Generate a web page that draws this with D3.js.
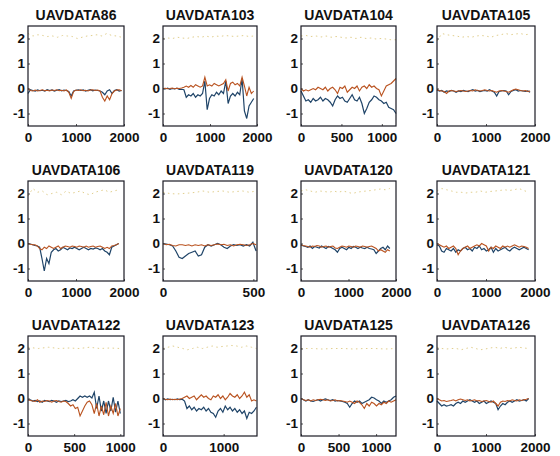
<!DOCTYPE html>
<html><head><meta charset="utf-8">
<script src="https://cdn.jsdelivr.net/npm/d3@7"></script>
<style>
html,body{margin:0;padding:0;background:#fff;}
svg{display:block;}
.tick text{font-family:"Liberation Sans",Arial,sans-serif;font-weight:bold;font-size:13.5px;fill:#111;}
</style></head><body>
<svg id="chart" width="560" height="456"></svg>
<script>
const titles = ["UAVDATA86","UAVDATA103","UAVDATA104","UAVDATA105","UAVDATA106","UAVDATA119","UAVDATA120","UAVDATA121","UAVDATA122","UAVDATA123","UAVDATA125","UAVDATA126"];
const xLimits = [2000,2000,1175,2000,2000,520,2000,2000,1040,1550,1265,2000];
const xTickValues = [[0,1000,2000],[0,1000,2000],[0,500,1000],[0,1000,2000],[0,1000,2000],[0,500],[0,1000,2000],[0,1000,2000],[0,500,1000],[0,1000],[0,500,1000],[0,1000,2000]];
const yTickValues = [-1,0,1,2];
const dataLength = [1950,1930,1175,1900,1890,515,1870,1870,1000,1540,1265,1870];

const blue86 = [-0.2,-0.05,-0.08,-0.1,-0.06,-0.09,-0.07,-0.1,-0.05,-0.08,-0.06,-0.1,-0.07,-0.05,-0.09,-0.06,-0.08,-0.12,-0.3,-0.1,-0.07,-0.05,-0.08,-0.06,-0.1,-0.07,-0.05,-0.09,-0.06,-0.08,-0.1,-0.15,-0.25,-0.1,-0.05,-0.2,-0.08,-0.05,-0.1,-0.08];
const red86 = [0,-0.08,-0.1,-0.06,-0.1,-0.08,-0.05,-0.09,-0.07,-0.1,-0.06,-0.08,-0.05,-0.09,-0.07,-0.1,-0.06,-0.15,-0.4,-0.12,-0.06,-0.08,-0.05,-0.09,-0.07,-0.1,-0.06,-0.05,-0.08,-0.06,-0.1,-0.35,-0.5,-0.3,-0.45,-0.2,-0.1,-0.06,-0.05,-0.09];
const yellow86 = [2.2,2.1,2.15,2.12,2.08,2.1,2.05,2.12,2.1,2.08,2.0,2.05,2.1,2.12,2.15,2.1,2.2,2.12,2.1,2.05];

const blue103 = [0,-0.02,0.01,-0.03,0,-0.02,0.01,-0.04,-0.03,-0.05,-0.35,-0.25,-0.3,-0.2,-0.35,-0.25,-0.3,-0.2,0.3,-0.85,-0.4,-0.25,-0.3,-0.15,-0.25,-0.1,-0.2,0.3,-0.6,-0.3,-0.2,-0.3,-0.15,-0.25,0.4,-0.9,-1.2,-0.7,-0.55,-0.4];
const red103 = [0,0.01,-0.01,0,0.02,-0.01,0.01,0,0.02,0.05,0.1,0.05,0.12,0.05,0.15,0.1,0.05,0.1,0.45,0.1,0.15,0.1,0.2,0.15,0.1,0.15,0.2,0.35,-0.1,0.2,0.25,0.15,0.2,0.1,0.45,0.1,-0.3,0.05,-0.2,-0.1];
const yellow103 = [2.0,2.02,2.0,2.05,2.02,2.0,2.05,2.08,2.05,2.1,2.05,2.1,2.08,2.12,2.1,2.08,2.1,2.12,2.08,2.1];

const blue104 = [-0.1,-0.3,-0.5,-0.45,-0.55,-0.4,-0.5,-0.45,-0.35,-0.5,-0.4,-0.45,-0.55,-0.7,-0.45,-0.3,-0.4,-0.35,-0.5,-0.55,-0.4,-0.25,-0.45,-0.5,-0.35,-0.6,-1.0,-0.8,-0.55,-0.45,-0.3,-0.35,-0.45,-0.5,-0.6,-0.55,-0.75,-0.8,-0.85,-1.0];
const red104 = [0,-0.1,-0.05,-0.1,-0.05,0,-0.05,0.05,0,-0.05,0.05,-0.1,0,0.05,-0.05,-0.2,0.05,0,0.1,-0.15,-0.05,0.05,0,0.1,-0.1,0.05,0.1,0,0.15,0.05,0.1,0,-0.05,-0.3,-0.1,0.1,0.15,0.2,0.3,0.4];
const yellow104 = [2.1,2.12,2.08,2.1,2.06,2.1,2.05,2.08,2.05,2.02,2.05,2.0,2.05,2.0,2.02,1.98,2.0,1.98,1.95,1.95];

const blue105 = [-0.05,-0.1,-0.08,-0.15,-0.1,-0.12,-0.08,-0.1,-0.15,-0.1,-0.12,-0.08,-0.1,-0.12,-0.08,-0.05,-0.1,-0.08,-0.12,-0.1,-0.08,-0.1,-0.05,-0.1,-0.15,-0.3,-0.12,-0.1,-0.08,-0.1,-0.25,-0.12,-0.08,-0.05,-0.1,-0.08,-0.1,-0.12,-0.1,-0.15];
const red105 = [-0.05,-0.08,-0.1,-0.12,-0.2,-0.1,-0.08,-0.1,-0.12,-0.1,-0.08,-0.1,-0.12,-0.1,-0.08,-0.1,-0.05,-0.08,-0.1,-0.08,-0.05,-0.08,-0.1,-0.08,-0.12,-0.15,-0.1,-0.08,-0.1,-0.12,-0.15,-0.1,-0.05,-0.02,-0.05,-0.08,-0.1,-0.08,-0.12,-0.1];
const yellow105 = [1.9,2.2,2.15,2.12,2.1,2.05,2.08,2.05,2.1,2.12,2.1,2.05,2.12,2.15,2.2,2.15,2.18,2.2,2.15,2.18];

const blue106 = [0,-0.02,-0.05,-0.08,-0.1,-0.15,-0.6,-1.1,-0.6,-0.8,-0.35,-0.25,-0.2,-0.3,-0.25,-0.15,-0.2,-0.25,-0.18,-0.2,-0.15,-0.2,-0.25,-0.2,-0.15,-0.2,-0.25,-0.2,-0.22,-0.18,-0.2,-0.25,-0.2,-0.3,-0.35,-0.45,-0.15,-0.1,-0.05,0];
const red106 = [0,-0.03,-0.05,-0.05,-0.1,-0.2,-0.25,-0.15,-0.2,-0.1,-0.15,-0.2,-0.15,-0.1,-0.2,-0.15,-0.1,-0.12,-0.15,-0.1,-0.12,-0.15,-0.1,-0.12,-0.15,-0.1,-0.15,-0.12,-0.1,-0.15,-0.12,-0.1,-0.15,-0.2,-0.15,-0.2,-0.1,-0.08,-0.05,0];
const yellow106 = [1.9,2.2,2.05,2.1,1.95,2.0,2.05,1.95,2.1,2.0,2.05,2.1,2.0,1.95,2.05,2.1,2.15,2.05,2.1,2.15];

const blue119 = [0,-0.02,-0.05,-0.1,-0.3,-0.55,-0.6,-0.5,-0.4,-0.35,-0.3,-0.5,-0.45,-0.15,-0.05,-0.1,-0.05,0,-0.05,-0.15,-0.2,-0.1,-0.05,-0.08,-0.05,-0.1,-0.05,-0.1,0.05,-0.3];
const red119 = [0,-0.05,-0.03,-0.08,-0.1,-0.05,-0.05,-0.08,-0.05,-0.1,-0.05,-0.08,-0.05,-0.1,-0.05,-0.08,-0.05,-0.02,-0.05,-0.03,-0.08,-0.05,-0.1,-0.05,-0.03,-0.05,-0.08,-0.05,0,-0.05];
const yellow119 = [2.05,2.0,1.98,2.0,2.02,2.05,2.1,2.05,2.08,2.1,2.05,2.08,2.1,2.05,2.1];

const blue120 = [-0.05,-0.1,-0.12,-0.15,-0.1,-0.2,-0.12,-0.15,-0.18,-0.1,-0.15,-0.2,-0.12,-0.15,-0.2,-0.25,-0.35,-0.2,-0.15,-0.2,-0.25,-0.15,-0.2,-0.12,-0.15,-0.2,-0.15,-0.18,-0.2,-0.15,-0.2,-0.22,-0.25,-0.4,-0.3,-0.2,-0.15,-0.25,-0.1,-0.2];
const red120 = [-0.05,-0.08,-0.1,-0.12,-0.15,-0.1,-0.12,-0.08,-0.1,-0.15,-0.12,-0.1,-0.15,-0.12,-0.1,-0.18,-0.2,-0.15,-0.1,-0.12,-0.15,-0.1,-0.12,-0.15,-0.1,-0.12,-0.15,-0.1,-0.12,-0.15,-0.12,-0.1,-0.15,-0.2,-0.3,-0.25,-0.3,-0.35,-0.25,-0.3];
const yellow120 = [2.1,2.15,2.1,2.05,2.1,2.08,2.05,2.1,2.05,2.1,2.05,2.0,2.05,2.08,2.1,2.12,2.15,2.18,2.15,2.2];

const blue121 = [-0.05,-0.1,-0.3,-0.35,-0.2,-0.25,-0.3,-0.2,-0.35,-0.25,-0.3,-0.2,-0.15,-0.25,-0.2,-0.3,-0.15,-0.2,-0.1,-0.25,-0.2,-0.3,-0.25,-0.15,-0.35,-0.2,-0.3,-0.25,-0.2,-0.15,-0.25,-0.3,-0.2,-0.15,-0.2,-0.25,-0.2,-0.15,-0.2,-0.25];
const red121 = [0,-0.05,-0.1,-0.15,-0.1,-0.2,-0.15,-0.1,-0.2,-0.45,-0.3,-0.2,-0.15,-0.1,-0.2,-0.15,-0.1,-0.05,-0.1,0,-0.05,-0.1,-0.3,-0.15,-0.2,-0.1,-0.15,-0.2,-0.1,-0.15,-0.1,-0.15,-0.1,-0.05,-0.1,-0.15,-0.1,-0.12,-0.15,-0.2];
const yellow121 = [2.1,2.2,2.15,2.1,2.05,2.05,2.02,2.05,2.05,2.1,2.05,2.08,2.1,2.12,2.15,2.12,2.15,2.2,2.12,2.05];

const blue122 = [-0.05,-0.05,-0.1,-0.08,-0.12,-0.1,-0.15,-0.08,-0.1,-0.12,-0.08,-0.1,-0.15,-0.1,-0.12,-0.1,-0.08,-0.12,-0.1,-0.05,-0.1,0,0.1,0.05,0.1,0.05,0.1,0.02,0.25,-0.4,0.1,-0.5,-0.1,-0.6,-0.1,-0.5,0.05,-0.55,-0.1,-0.6];
const red122 = [-0.05,-0.08,-0.1,-0.12,-0.05,-0.15,-0.1,-0.12,-0.08,-0.1,-0.15,-0.1,-0.08,-0.12,-0.15,-0.1,-0.12,-0.2,-0.3,-0.25,-0.4,-0.35,-0.7,-0.5,-0.3,-0.15,-0.1,-0.25,-0.6,-0.2,-0.7,-0.3,-0.65,-0.15,-0.7,-0.3,-0.6,-0.2,-0.7,-0.4];
const yellow122 = [2.05,2.0,2.05,2.0,2.02,2.0,2.05,2.0,2.02,2.0];

const blue123 = [0,-0.05,-0.02,-0.05,-0.03,-0.05,-0.02,-0.05,-0.03,-0.1,-0.4,-0.3,-0.45,-0.35,-0.5,-0.4,-0.45,-0.35,-0.5,-0.4,-0.55,-0.6,-0.75,-0.5,-0.4,-0.55,-0.3,-0.45,-0.35,-0.5,-0.4,-0.55,-0.45,-0.6,-0.5,-0.8,-0.55,-0.6,-0.5,-0.35];
const red123 = [0,-0.03,-0.05,-0.02,-0.05,-0.03,-0.05,-0.02,0,0.05,0.1,0,0.05,0.1,-0.05,0.05,0.15,0.05,0.1,0,-0.05,0.1,0.05,0.15,0,0.1,-0.05,0.05,0.2,0.1,0.05,0.15,0,0.1,0.25,0.05,0.15,-0.1,-0.05,-0.1];
const yellow123 = [2.0,2.05,2.1,2.05,2.0,1.95,2.0,2.05,2.0,2.05,2.1,2.05,2.08,2.1,2.12,2.1,2.05,2.1,2.05,2.0];

const blue125 = [0,-0.05,-0.1,-0.05,-0.1,-0.12,-0.08,-0.05,-0.1,-0.05,-0.02,-0.05,-0.08,-0.05,-0.1,-0.08,-0.1,-0.12,-0.15,-0.2,-0.35,-0.2,-0.1,-0.15,-0.1,-0.2,-0.15,-0.1,-0.05,0.05,0.02,-0.05,-0.1,-0.2,-0.1,-0.15,-0.1,-0.05,0.05,0.1];
const red125 = [0,-0.05,-0.08,-0.05,-0.1,-0.05,-0.08,-0.05,-0.03,-0.05,-0.08,-0.05,-0.1,-0.08,-0.05,-0.1,-0.08,-0.1,-0.12,-0.15,-0.1,-0.15,-0.2,-0.1,-0.15,-0.25,-0.4,-0.2,-0.3,-0.15,-0.2,-0.3,-0.2,-0.25,-0.15,-0.2,-0.1,-0.15,-0.1,-0.05];
const yellow125 = [2.0,2.0,1.98,2.0,2.0,1.98,2.0,2.0,1.98,2.0];

const blue126 = [-0.1,-0.2,-0.3,-0.25,-0.3,-0.28,-0.25,-0.3,-0.2,-0.15,-0.2,-0.1,-0.15,-0.1,-0.05,-0.1,-0.15,-0.1,-0.2,-0.15,-0.1,-0.2,-0.15,-0.1,-0.15,-0.2,-0.45,-0.3,-0.2,-0.25,-0.15,-0.1,-0.15,-0.1,-0.05,-0.1,-0.08,-0.05,-0.1,0];
const red126 = [0,-0.05,-0.1,-0.08,-0.12,-0.1,-0.08,-0.05,-0.1,-0.05,-0.02,-0.05,-0.08,-0.05,-0.1,-0.08,-0.05,-0.1,-0.08,-0.12,-0.1,-0.08,-0.12,-0.15,-0.1,-0.2,-0.3,-0.15,-0.1,-0.12,-0.08,-0.1,-0.05,-0.08,-0.1,-0.05,-0.08,-0.05,-0.03,0];
const yellow126 = [2.05,2.0,1.98,2.0,2.0,1.95,2.0,2.05,2.0,1.95,1.98,2.02,2.05,2.0,2.05,2.0,2.02,2.05,2.02,2.0];

const blueSeries = [blue86,blue103,blue104,blue105,blue106,blue119,blue120,blue121,blue122,blue123,blue125,blue126];
const redSeries = [red86,red103,red104,red105,red106,red119,red120,red121,red122,red123,red125,red126];
const yellowSeries = [yellow86,yellow103,yellow104,yellow105,yellow106,yellow119,yellow120,yellow121,yellow122,yellow123,yellow125,yellow126];

const svg = d3.select("#chart");
const colLeft = [28,163,301,437];
const colWidth = [96,94,95,98];
const rowTop = [26,181,336];
const plotH = 100;

titles.forEach((t, k) => {
  const r = Math.floor(k/4), c = k%4;
  const w = colWidth[c];
  const g = svg.append("g").attr("transform", `translate(${colLeft[c]},${rowTop[r]})`);
  const x = d3.scaleLinear().domain([0, xLimits[k]]).range([0, w]);
  const y = d3.scaleLinear().domain([-1.5, 2.5]).range([plotH, 0]);

  const toPts = arr => arr.map((v,i) => [i*dataLength[k]/(arr.length-1), v]);
  const line = d3.line().x(d => x(d[0])).y(d => y(d[1]));

  g.append("path").datum(toPts(yellowSeries[k])).attr("d", line)
    .attr("fill","none").attr("stroke","#e2cf8e").attr("stroke-width",1)
    .attr("stroke-dasharray","1.5,3.5");
  g.append("path").datum(toPts(blueSeries[k])).attr("d", line)
    .attr("fill","none").attr("stroke","#1f4468").attr("stroke-width",1.2);
  g.append("path").datum(toPts(redSeries[k])).attr("d", line)
    .attr("fill","none").attr("stroke","#b9521f").attr("stroke-width",1.1);

  const xa = g.append("g").attr("transform", `translate(0,${plotH})`)
    .call(d3.axisBottom(x).tickValues(xTickValues[k]).tickFormat(d3.format("d")).tickSizeInner(-2).tickSizeOuter(0).tickPadding(6));
  xa.select(".domain").remove();
  xa.selectAll("line").attr("stroke","#555");
  const ya = g.append("g")
    .call(d3.axisLeft(y).tickValues(yTickValues).tickFormat(d => d < 0 ? "-" + Math.abs(d) : d).tickSizeInner(-2).tickSizeOuter(0).tickPadding(3));
  ya.select(".domain").remove();
  ya.selectAll("line").attr("stroke","#555");

  g.append("rect").attr("x",0).attr("y",0).attr("width",w).attr("height",plotH)
    .attr("fill","none").attr("stroke","#1a1a24").attr("stroke-width",1.2);

  g.append("text").attr("x", w/2).attr("y", -6).attr("text-anchor","middle")
    .attr("font-family","'Liberation Sans',Arial,sans-serif").attr("font-weight","bold")
    .attr("font-size","14px").attr("fill","#111").text(t);
});
</script>
</body></html>
